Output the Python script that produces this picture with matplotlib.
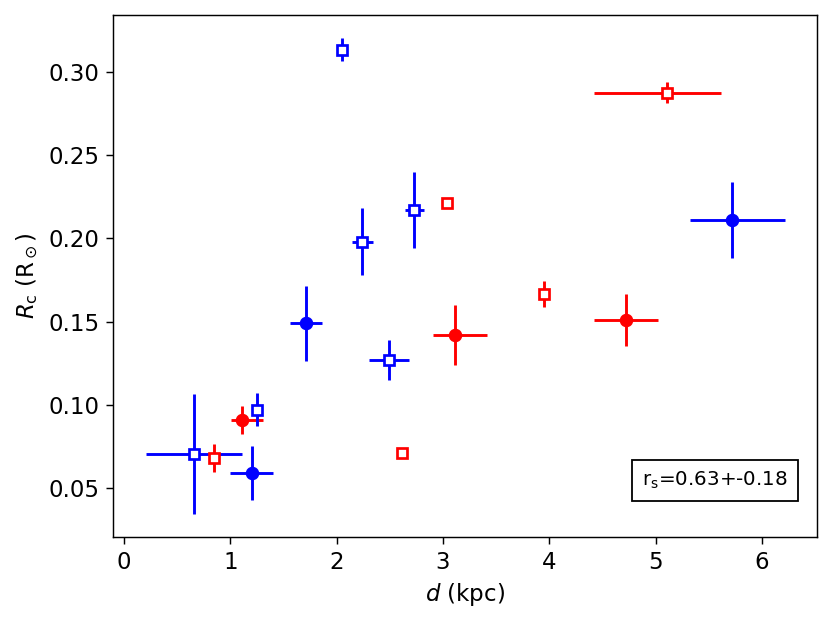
import numpy as np
import matplotlib
matplotlib.use("Agg")
import matplotlib.pyplot as plt

# blue, filled circles (asymmetric x errors)
blue_c_x = [1.20, 1.71, 5.72]
blue_c_y = [0.059, 0.149, 0.211]
blue_c_xlo = [0.20, 0.15, 0.40]
blue_c_xhi = [0.20, 0.15, 0.50]
blue_c_yerr = [0.016, 0.0225, 0.023]

# blue, open squares
blue_s_x = [0.66, 1.25, 2.49, 2.05, 2.24, 2.73]
blue_s_y = [0.0705, 0.097, 0.127, 0.3135, 0.198, 0.217]
blue_s_xerr = [0.45, 0.05, 0.19, 0.02, 0.10, 0.09]
blue_s_yerr = [0.036, 0.010, 0.012, 0.007, 0.020, 0.023]

# red, filled circles (asymmetric x errors)
red_c_x = [1.11, 3.11, 4.72]
red_c_y = [0.091, 0.142, 0.151]
red_c_xlo = [0.10, 0.20, 0.30]
red_c_xhi = [0.20, 0.30, 0.30]
red_c_yerr = [0.0085, 0.018, 0.0157]

# red, open squares (asymmetric x errors)
red_s_x = [0.85, 2.61, 3.04, 3.95, 5.11]
red_s_y = [0.068, 0.071, 0.221, 0.1665, 0.2875]
red_s_xlo = [0.03, 0.0, 0.0, 0.05, 0.69]
red_s_xhi = [0.03, 0.0, 0.0, 0.05, 0.50]
red_s_yerr = [0.0086, 0.0, 0.002, 0.008, 0.0064]

plt.rcParams['font.size'] = 12.7
plt.rcParams['xtick.major.size'] = 4
plt.rcParams['ytick.major.size'] = 4

fig = plt.figure(figsize=(831 / 130, 622 / 130), dpi=130)
ax = fig.add_axes([113 / 831, 1 - 537 / 622, (817 - 113) / 831, (537 - 15) / 622])

lw = 1.6
ax.errorbar(blue_c_x, blue_c_y, xerr=[blue_c_xlo, blue_c_xhi], yerr=blue_c_yerr, fmt='o',
            color='blue', ms=6.5, elinewidth=lw, capsize=0)
ax.errorbar(red_c_x, red_c_y, xerr=[red_c_xlo, red_c_xhi], yerr=red_c_yerr, fmt='o',
            color='red', ms=6.5, elinewidth=lw, capsize=0)
ax.errorbar(blue_s_x, blue_s_y, xerr=blue_s_xerr, yerr=blue_s_yerr, fmt='s', color='blue',
            mfc='white', mec='blue', mew=1.5, ms=6, elinewidth=lw, capsize=0)
ax.errorbar(red_s_x, red_s_y, xerr=[red_s_xlo, red_s_xhi], yerr=red_s_yerr, fmt='s',
            color='red', mfc='white', mec='red', mew=1.5, ms=6, elinewidth=lw, capsize=0)

# x: 0 at px 124, 6 at px 762 ; y: 0.30 at px 72, 0.05 at px 488
ax.set_xlim((113 - 124) / 106.33, (817 - 124) / 106.33)
ax.set_ylim(0.05 - (537 - 488) / 1664, 0.30 + (72 - 15) / 1664)
ax.set_xlabel(r'$d$ (kpc)')
ax.set_ylabel(r'$R_{\rm c}$ (R$_\odot$)')

ax.text(0.855, 0.109, r'r$_{\rm s}$=0.63+-0.18', transform=ax.transAxes, fontsize=11,
        ha='center', va='center',
        bbox=dict(boxstyle='square,pad=0.5', facecolor='white', edgecolor='black'))

fig.savefig('out.png', dpi=130)
